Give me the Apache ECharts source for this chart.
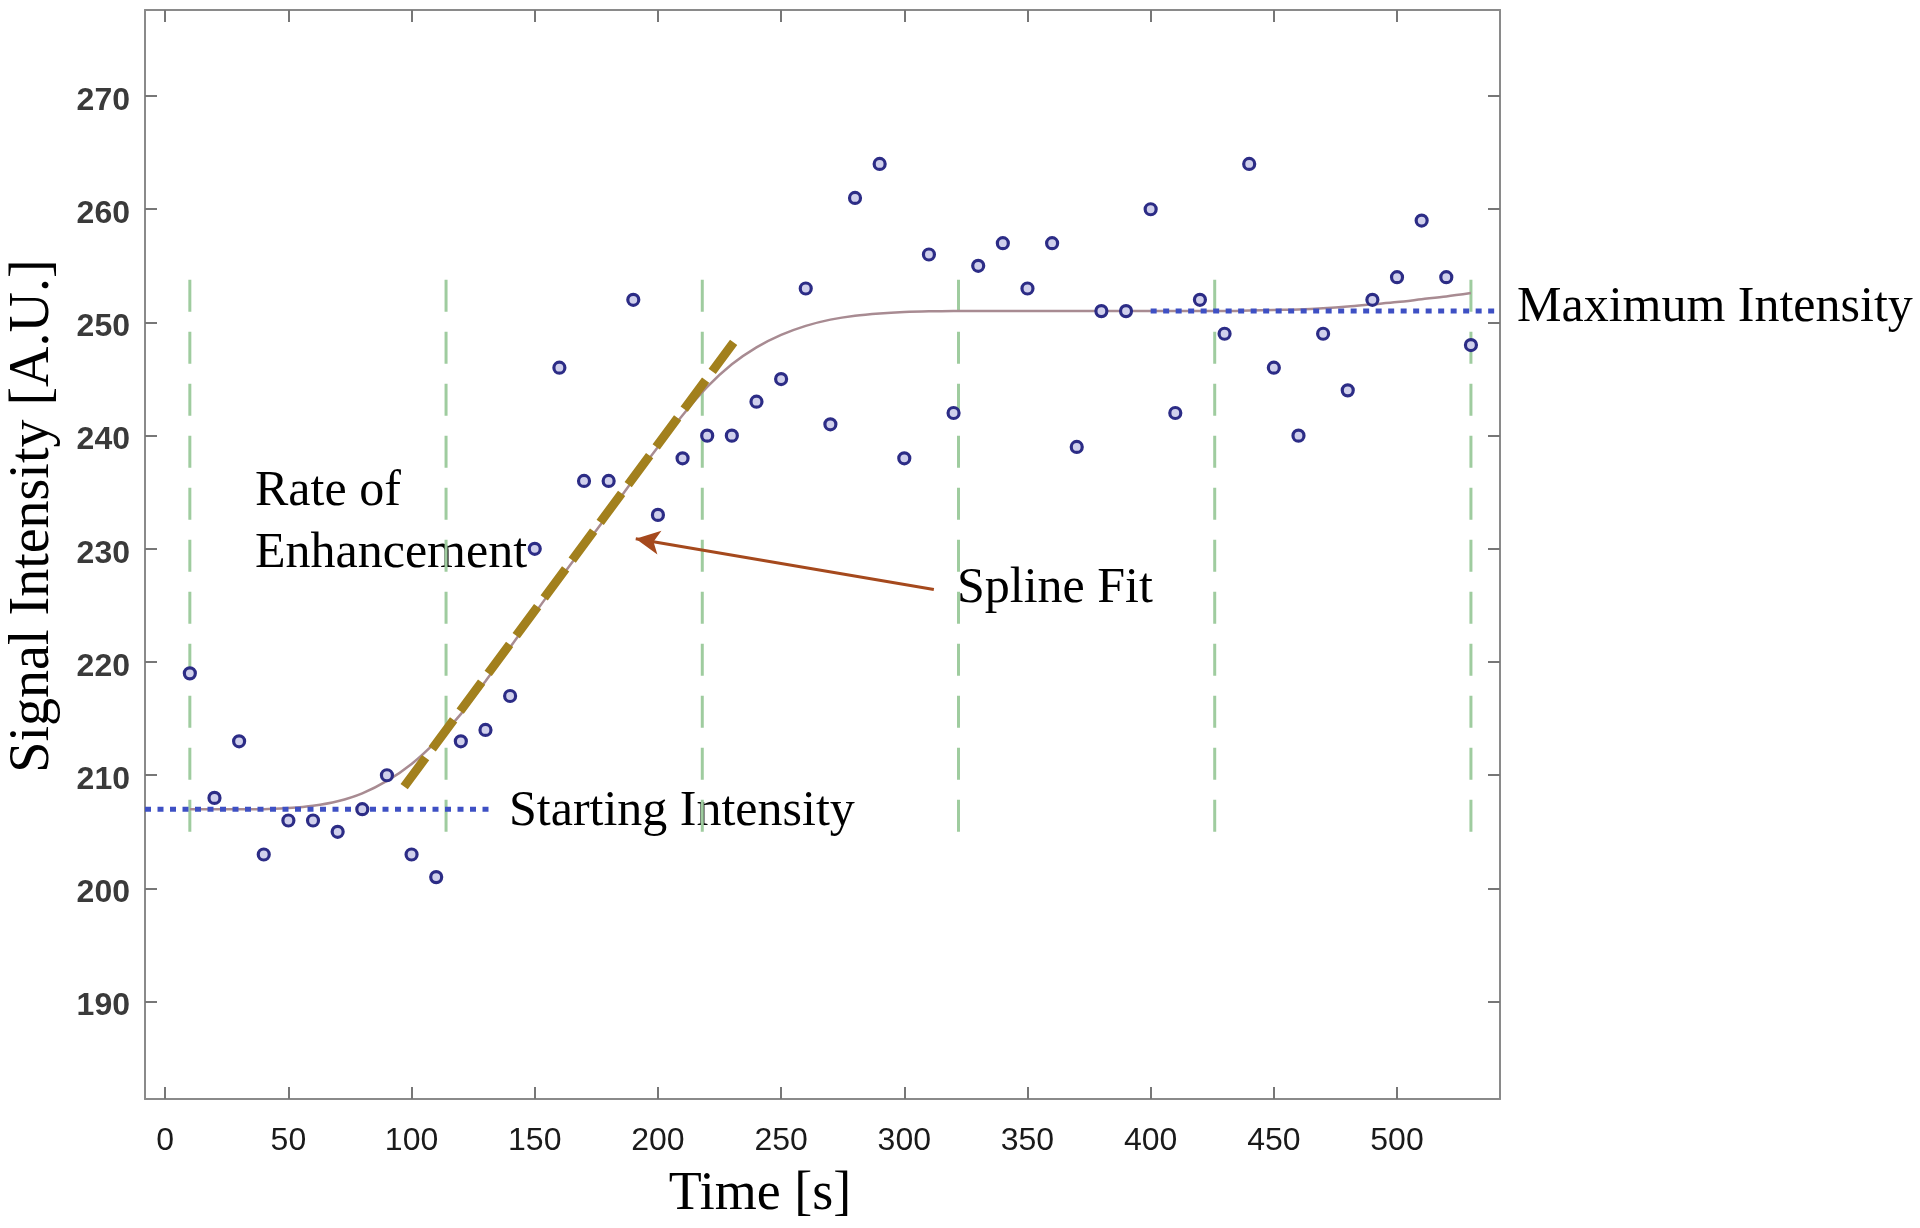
<!DOCTYPE html>
<html>
<head>
<meta charset="utf-8">
<script src="https://cdn.jsdelivr.net/npm/echarts@6/dist/echarts.min.js"></script>
<style>
html,body{margin:0;padding:0;background:#fff;}
#chart{width:1920px;height:1228px;}
</style>
</head>
<body>
<div id="chart"></div>
<script>
// ---- data ----
const timeS = [10,20,30,40,50,60,70,80,90,100,110,120,130,140,150,160,170,180,190,200,
  210,220,230,240,250,260,270,280,290,300,310,320,330,340,350,360,370,380,390,400,
  410,420,430,440,450,460,470,480,490,500,510,520,530];
const signal = [219,208,213,203,206,206,205,207,210,203,201,213,214,217,230,246,236,236,252,233,
  238,240,240,243,245,253,241,261,264,238,256,242,255,257,253,257,239,251,251,260,
  242,252,249,264,246,240,249,244,252,254,259,254,248];
const splineFit = [207.0,207.0,207.0,207.0,207.1,207.3,207.7,208.4,209.5,211.0,213.0,215.4,218.3,221.3,224.3,227.3,230.2,233.1,236.1,239.0,
  241.8,244.3,246.3,247.8,248.9,249.7,250.25,250.6,250.8,250.92,250.98,251.0,251.0,251.0,251.0,251.0,251.0,251.0,251.0,251.0,
  251.0,251.0,251.0,251.05,251.1,251.15,251.25,251.4,251.6,251.8,252.05,252.3,252.6];
const knotTimes = [10,114,218,322,426,530];
const knotRange = [205,255];
const startIntensity = 207;
const startLineTime = [-8.2,132];
const maxIntensity = 251;
const maxLineTime = [400,541.8];
const tangentStart = [97,209];
const tangentEnd = [233,248.9];
const arrowFrom = [312,226.4];
const arrowTo = [191,230.9];
const xTicks = [0,50,100,150,200,250,300,350,400,450,500];
const yTicks = [190,200,210,220,230,240,250,260,270];
const xRange = [-8.2,541.8];
const yRange = [181.4,277.6];

// ---- chart ----
const chart = echarts.init(document.getElementById('chart'), null, {renderer:'canvas'});
const frameColor = '#8a8a8a';
const tickFont = 'Liberation Sans, Arial, Helvetica, sans-serif';
const serif = 'Liberation Serif, Times New Roman, serif';

function xAx(pos, show){
  return {
    type:'value', position:pos, min:xRange[0], max:xRange[1],
    axisLine:{show:true, onZero:false, lineStyle:{color:frameColor, width:2}},
    axisTick:{show:true, inside:true, length:12, customValues:xTicks, lineStyle:{color:'#777', width:2}},
    axisLabel:{show:show, customValues:xTicks, fontFamily:tickFont, fontSize:32, color:'#1a1a1a', margin:26},
    splitLine:{show:false}
  };
}
function yAx(pos, show){
  return {
    type:'value', position:pos, min:yRange[0], max:yRange[1],
    axisLine:{show:true, onZero:false, lineStyle:{color:frameColor, width:2}},
    axisTick:{show:true, inside:true, length:12, customValues:yTicks, lineStyle:{color:'#777', width:2}},
    axisLabel:{show:show, customValues:yTicks, margin:15,
      formatter:function(v){return '{t|' + v + '}';},
      rich:{t:{fontFamily:tickFont, fontSize:32, fontWeight:'bold', color:'#3a3a3a', padding:[10,0,0,0]}}},
    splitLine:{show:false}
  };
}

const series = [];
// knot lines (green dashed)
knotTimes.forEach(function(t){
  series.push({
    type:'line', xAxisIndex:0, yAxisIndex:0, symbol:'none', silent:true, z:1,
    data:[[t,knotRange[0]],[t,knotRange[1]]],
    lineStyle:{color:'#9fcc9f', width:3, type:[32,20]}
  });
});
// spline fit
series.push({
  type:'line', xAxisIndex:0, yAxisIndex:0, symbol:'none', smooth:0.3, z:2,
  data: timeS.map(function(t,i){return [t, splineFit[i]];}),
  lineStyle:{color:'#a88b92', width:2.5}
});
// rate of enhancement tangent
series.push({
  type:'line', xAxisIndex:0, yAxisIndex:0, symbol:'none', z:3,
  data:[tangentStart, tangentEnd],
  lineStyle:{color:'#a2801d', width:9, type:[36,11], cap:'butt'}
});
// starting intensity
series.push({
  type:'line', xAxisIndex:0, yAxisIndex:0, symbol:'none', z:4,
  data:[[startLineTime[0],startIntensity],[startLineTime[1],startIntensity]],
  lineStyle:{color:'#3e50c4', width:5, type:[6,6.5], cap:'butt'}
});
// maximum intensity
series.push({
  type:'line', xAxisIndex:0, yAxisIndex:0, symbol:'none', z:4,
  data:[[maxLineTime[0],maxIntensity],[maxLineTime[1],maxIntensity]],
  lineStyle:{color:'#3e50c4', width:5, type:[6,6.5], cap:'butt'}
});
// data points
series.push({
  type:'scatter', xAxisIndex:0, yAxisIndex:0, z:5,
  data: timeS.map(function(t,i){return [t, signal[i]];}),
  symbol:'circle', symbolSize:11,
  itemStyle:{color:'#d0d0ec', borderColor:'#2c2c86', borderWidth:3.2, opacity:1},
  markLine:{
    silent:true, symbol:['none','arrow'], symbolSize:[18,24], z:6,
    label:{show:false},
    lineStyle:{color:'#a5491d', width:3, type:'solid'},
    data:[[{coord:arrowFrom},{coord:arrowTo}]]
  }
});

const option = {
  backgroundColor:'#ffffff',
  animation:false,
  grid:{left:145, right:420, top:10, bottom:129, containLabel:false},
  xAxis:[xAx('bottom', true), xAx('top', false)],
  yAxis:[yAx('left', true), yAx('right', false)],
  series: series,
  graphic:[
    {type:'text', x:760, y:1195, style:{text:'Time [s]', font:'54px ' + serif, fill:'#000', align:'center', verticalAlign:'middle'}},
    {type:'text', x:33, y:516, rotation:Math.PI/2, style:{text:'Signal Intensity [A.U.]', font:'56px ' + serif, fill:'#000', align:'center', verticalAlign:'middle'}},
    {type:'text', x:255, y:492, style:{text:'Rate of', font:'50px ' + serif, fill:'#000', align:'left', verticalAlign:'middle'}},
    {type:'text', x:255, y:554, style:{text:'Enhancement', font:'50px ' + serif, fill:'#000', align:'left', verticalAlign:'middle'}},
    {type:'text', x:957, y:589, style:{text:'Spline Fit', font:'50px ' + serif, fill:'#000', align:'left', verticalAlign:'middle'}},
    {type:'text', x:509, y:812, style:{text:'Starting Intensity', font:'50px ' + serif, fill:'#000', align:'left', verticalAlign:'middle'}},
    {type:'text', x:1517, y:308, style:{text:'Maximum Intensity', font:'50px ' + serif, fill:'#000', align:'left', verticalAlign:'middle'}}
  ]
};
chart.setOption(option);
</script>
</body>
</html>
